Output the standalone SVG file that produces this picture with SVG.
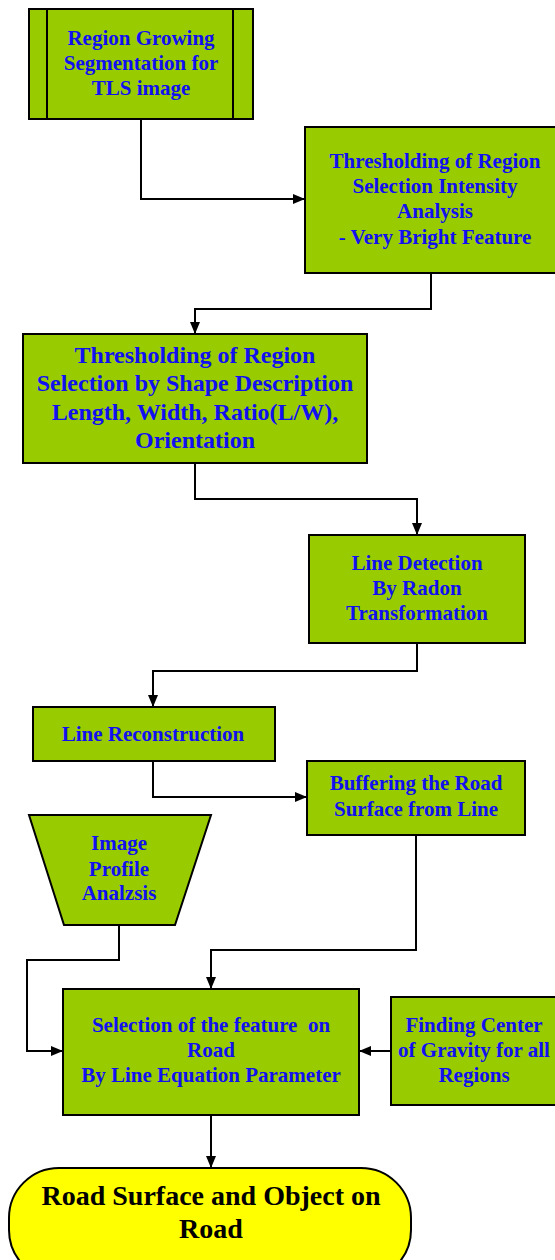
<svg xmlns="http://www.w3.org/2000/svg" width="555" height="1260" viewBox="0 0 555 1260">
<style>
.box{fill:#99CC00;stroke:#000;stroke-width:2}
.t{font-family:"Liberation Serif","Times New Roman",serif;font-weight:bold;font-size:21px;fill:#1010F0;text-anchor:middle}
.tb{font-size:24px}
.tk{font-family:"Liberation Serif","Times New Roman",serif;font-weight:bold;font-size:28px;fill:#000;text-anchor:middle}
.c{fill:none;stroke:#000;stroke-width:2}
</style>
<defs>
<marker id="ah" markerWidth="12" markerHeight="12" refX="11" refY="6" orient="auto" markerUnits="userSpaceOnUse">
<path d="M0,1 L12,6 L0,11 Z" fill="#000"/>
</marker>
</defs>
<rect width="555" height="1260" fill="#fff"/>
<g id="connectors">
<path class="c" d="M141,119 V199 H304" marker-end="url(#ah)"/>
<path class="c" d="M431,273 V309 H195 V333" marker-end="url(#ah)"/>
<path class="c" d="M195,463 V499 H417 V534" marker-end="url(#ah)"/>
<path class="c" d="M417,643 V671 H153 V706" marker-end="url(#ah)"/>
<path class="c" d="M153,761 V797 H306" marker-end="url(#ah)"/>
<path class="c" d="M119,925 V960 H27 V1051 H62" marker-end="url(#ah)"/>
<path class="c" d="M416,835 V950 H211 V988" marker-end="url(#ah)"/>
<path class="c" d="M391,1051 H360" marker-end="url(#ah)"/>
<path class="c" d="M211,1115 V1167" marker-end="url(#ah)"/>
</g>
<g id="n1">
<rect class="box" x="29" y="9" width="224" height="110"/>
<line class="c" x1="47" y1="9" x2="47" y2="119"/>
<line class="c" x1="233" y1="9" x2="233" y2="119"/>
<text class="t" x="141" y="45">Region Growing</text>
<text class="t" x="141" y="70">Segmentation for</text>
<text class="t" x="141" y="95">TLS image</text>
</g>
<g id="n2">
<rect class="box" x="305" y="127" width="260" height="146"/>
<text class="t" x="435" y="168">Thresholding of Region</text>
<text class="t" x="435" y="193">Selection Intensity</text>
<text class="t" x="435" y="218">Analysis</text>
<text class="t" x="435" y="244">- Very Bright Feature</text>
</g>
<g id="n3">
<rect class="box" x="23" y="334" width="344" height="129"/>
<text class="t tb" x="195" y="363">Thresholding of Region</text>
<text class="t tb" x="195" y="391">Selection by Shape Description</text>
<text class="t tb" x="195" y="420">Length, Width, Ratio(L/W),</text>
<text class="t tb" x="195" y="448">Orientation</text>
</g>
<g id="n4">
<rect class="box" x="309" y="535" width="216" height="108"/>
<text class="t" x="417" y="570">Line Detection</text>
<text class="t" x="417" y="595">By Radon</text>
<text class="t" x="417" y="620">Transformation</text>
</g>
<g id="n5">
<rect class="box" x="33" y="707" width="242" height="54"/>
<text class="t" x="153" y="741">Line Reconstruction</text>
</g>
<g id="n6">
<rect class="box" x="307" y="761" width="218" height="74"/>
<text class="t" x="416" y="790">Buffering the Road</text>
<text class="t" x="416" y="816">Surface from Line</text>
</g>
<g id="n7">
<polygon class="box" points="29,815 211,815 175,925 64,925"/>
<text class="t" x="119" y="850">Image</text>
<text class="t" x="119" y="876">Profile</text>
<text class="t" x="119" y="900">Analzsis</text>
</g>
<g id="n8">
<rect class="box" x="63" y="989" width="296" height="126"/>
<text class="t" x="211" y="1032" xml:space="preserve">Selection of the feature  on</text>
<text class="t" x="211" y="1057">Road</text>
<text class="t" x="211" y="1082">By Line Equation Parameter</text>
</g>
<g id="n9">
<rect class="box" x="391" y="997" width="174" height="108"/>
<text class="t" x="474" y="1032">Finding Center</text>
<text class="t" x="474" y="1057">of Gravity for all</text>
<text class="t" x="474" y="1082">Regions</text>
</g>
<g id="n10">
<rect x="9" y="1168" width="402" height="112" rx="50" ry="50" fill="#FFFF00" stroke="#000" stroke-width="2"/>
<text class="tk" x="211" y="1205">Road Surface and Object on</text>
<text class="tk" x="211" y="1238">Road</text>
</g>
</svg>
